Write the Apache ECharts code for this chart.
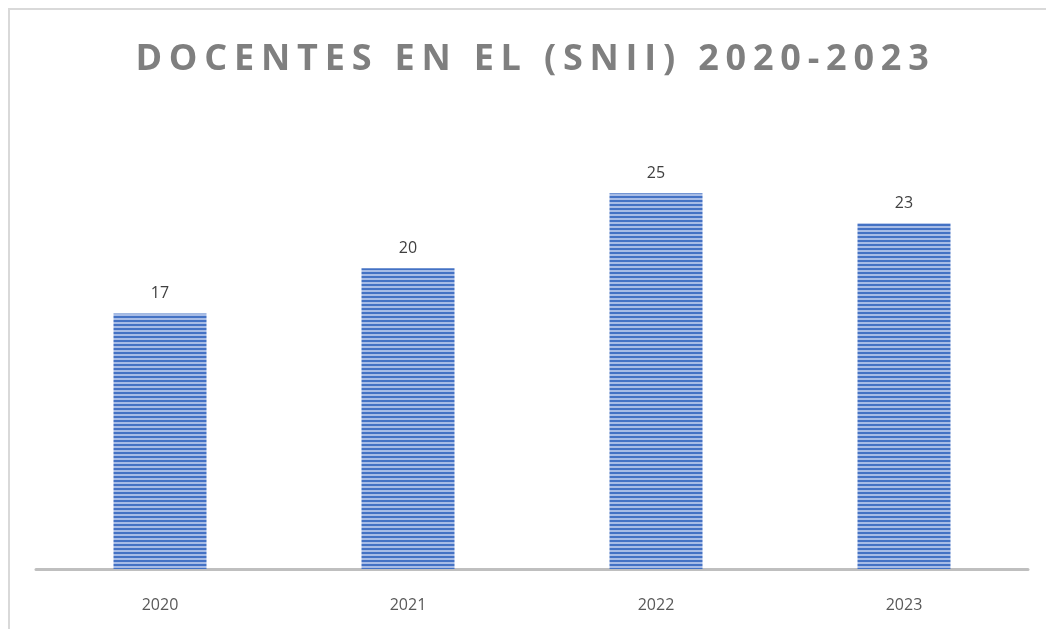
<!DOCTYPE html>
<html>
<head>
<meta charset="utf-8">
<script src="https://cdn.jsdelivr.net/npm/echarts@6/dist/echarts.min.js"></script>
<style>
	html, body { margin: 0; padding: 0; background: #fff; }
	#main { width: 1046px; height: 629px; }
</style>
</head>
<body>
<div id="main"></div>
<script>
const years = ["2020", "2021", "2022", "2023"];
const docentes = [17, 20, 25, 23];
const titleText = "DOCENTES EN EL (SNII) 2020-2023";

// striped fill like the original bars
const stripe = document.createElement("canvas");
stripe.width = 4;
stripe.height = 4;
const sctx = stripe.getContext("2d");
sctx.fillStyle = "#a7bce6";
sctx.fillRect(0, 0, 4, 4);
sctx.fillStyle = "#4472c4";
sctx.fillRect(0, 0, 4, 2);

// spaced out title, one rich fragment per letter
let spaced = "";
for(let i = 0; i < titleText.length; i++){
	const ch = titleText[i];
	spaced += ch == " " ? "{s| }" : "{c|" + ch + "}";
}

var mychart = echarts.init(document.getElementById("main"));

const option = {
	animation: false,
	title: {
		text: spaced,
		left: 127,
		top: 37,
		textStyle: {
			rich: {
				c: {fontFamily: "Open Sans", fontWeight: "bold", fontSize: 36, color: "#7f7f7f", padding: [0, 3.4, 0, 3.4]},
				s: {fontFamily: "Open Sans", fontWeight: "bold", fontSize: 36, color: "#7f7f7f", padding: [0, 3.4, 0, 3.4]}
			}
		}
	},
	graphic: [
		{type: "line", shape: {x1: 8, y1: 9, x2: 1046, y2: 9}, style: {stroke: "#d9d9d9", lineWidth: 2}},
		{type: "line", shape: {x1: 9, y1: 8, x2: 9, y2: 629}, style: {stroke: "#d9d9d9", lineWidth: 2}}
	],
	grid: {left: 36, right: 18, top: 118, bottom: 60},
	xAxis: {
		type: "category",
		data: years,
		axisLine: {lineStyle: {color: "#bfbfbf", width: 3}},
		axisTick: {show: false},
		axisLabel: {fontFamily: "Open Sans", fontSize: 16, color: "#595959", margin: 28}
	},
	yAxis: {
		type: "value",
		min: 0,
		max: 30,
		show: false,
		splitLine: {show: false}
	},
	series: [{
		type: "bar",
		data: docentes,
		barWidth: "37.5%",
		itemStyle: {color: {image: stripe, repeat: "repeat"}},
		label: {show: true, position: "top", distance: 12, fontFamily: "Open Sans", fontSize: 16, color: "#404040"}
	}]
};
mychart.setOption(option);
</script>
</body>
</html>
